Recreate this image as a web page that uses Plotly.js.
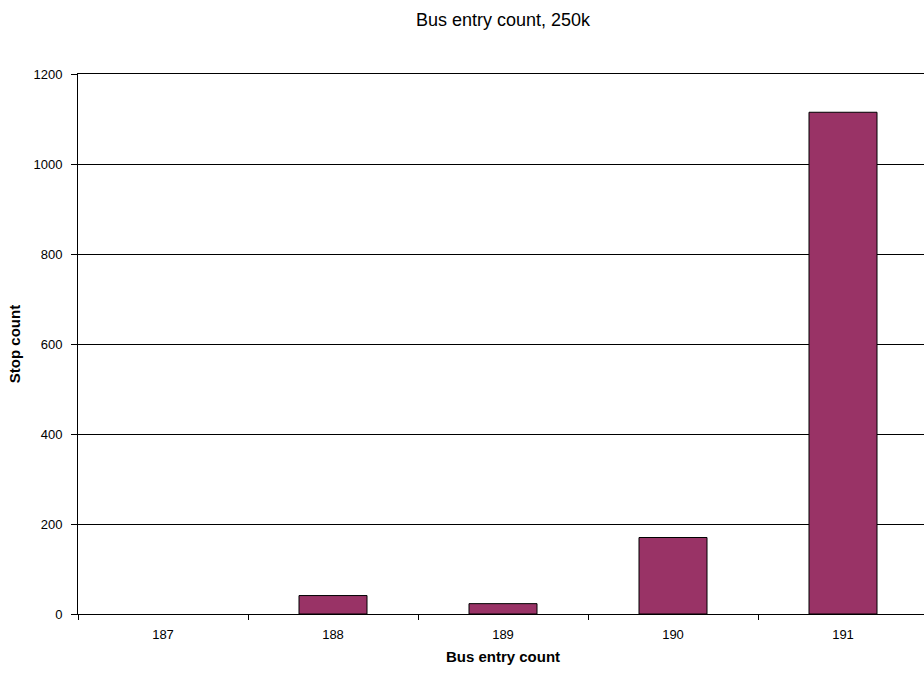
<!DOCTYPE html>
<html>
<head>
<meta charset="utf-8">
<script src="https://cdn.plot.ly/plotly-3.0.1.min.js"></script>
<style>
html,body{margin:0;padding:0;overflow:hidden;background:#fff;width:924px;height:675px;}
#chart{width:940px;height:675px;}
</style>
</head>
<body>
<div id="chart"></div>
<script>
const categories = ["187", "188", "189", "190", "191"];
const stopCounts = [0, 41, 23, 170, 1115];
const yTicks = [0, 200, 400, 600, 800, 1000, 1200];

const trace = {
  type: 'bar',
  x: categories,
  y: stopCounts,
  width: 0.4,
  marker: {
    color: '#993366',
    line: {color: '#000000', width: stopCounts.map(v => v > 0 ? 1 : 0)}
  },
  hoverinfo: 'x+y'
};

const layout = {
  width: 940,
  height: 675,
  margin: {l: 78, r: 12, t: 74, b: 61},
  paper_bgcolor: '#ffffff',
  plot_bgcolor: '#ffffff',
  font: {family: '"Liberation Sans", Arial, sans-serif', size: 13, color: '#000'},
  title: {
    text: 'Bus entry count, 250k',
    font: {size: 18, color: '#000'},
    x: 0.5, xref: 'paper', xanchor: 'center',
    y: 1 - 20/675, yref: 'container', yanchor: 'middle'
  },
  xaxis: {
    type: 'category',
    range: [-0.5, 4.5],
    showline: true, linecolor: '#000', linewidth: 1, mirror: true,
    ticks: 'outside', tickson: 'boundaries', ticklen: 5, tickcolor: '#000',
    ticklabelstandoff: 8,
    showgrid: false,
    tickfont: {size: 13},
    title: {text: '<b>Bus entry count</b>', font: {size: 15}, standoff: 10}
  },
  yaxis: {
    range: [0, 1200],
    tickvals: yTicks,
    showline: true, linecolor: '#000', linewidth: 1, mirror: true,
    ticks: 'outside', ticklen: 6, tickcolor: '#000',
    ticklabelstandoff: 6,
    showgrid: true, gridcolor: '#000', gridwidth: 1,
    zeroline: false,
    tickfont: {size: 13},
    title: {text: '<b>Stop count</b>', font: {size: 15}, standoff: 9}
  },
  showlegend: false,
  bargap: 0.6
};

Plotly.newPlot('chart', [trace], layout, {displayModeBar: false, responsive: false});
</script>
</body>
</html>
